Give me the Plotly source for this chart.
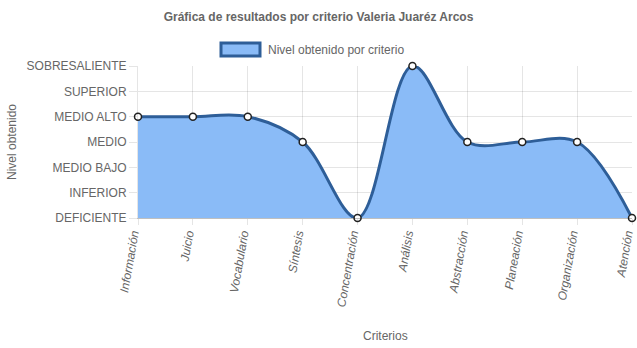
import plotly.graph_objects as go

criterios = ["Información", "Juicio", "Vocabulario", "Síntesis", "Concentración",
             "Análisis", "Abstracción", "Planeación", "Organización", "Atención"]
niveles = ["DEFICIENTE", "INFERIOR", "MEDIO BAJO", "MEDIO", "MEDIO ALTO", "SUPERIOR", "SOBRESALIENTE"]
valores = [4, 4, 4, 3, 0, 6, 3, 3, 3, 0]

FONT = "Liberation Sans, Arial, sans-serif"
GRAY = "#666666"
FILL = "rgba(138,187,247,1)"
LINE = "#2e5e98"

fig = go.Figure()
fig.add_trace(go.Scatter(
    x=list(range(len(criterios))), y=valores,
    mode="lines+markers",
    line=dict(shape="spline", smoothing=1.0, color=LINE, width=3),
    fill="tozeroy", fillcolor=FILL,
    marker=dict(size=7, color="white", line=dict(color="#222222", width=1.5)),
    cliponaxis=False,
    showlegend=False,
))

fig.update_layout(
    width=637, height=348,
    margin=dict(l=138, r=5, t=66, b=130),
    paper_bgcolor="white", plot_bgcolor="white",
    font=dict(family=FONT, size=12, color=GRAY),
    title=dict(text="<b>Gráfica de resultados por criterio Valeria Juaréz Arcos</b>",
               x=0.5, xref="container", xanchor="center",
               y=1 - 17 / 348, yref="container", yanchor="middle",
               font=dict(size=12, color=GRAY, family=FONT)),
    xaxis=dict(
        range=[0, len(criterios) - 1],
        tickmode="array", tickvals=list(range(len(criterios))),
        ticktext=[f"<i>{c}</i>" for c in criterios],
        tickangle=-80,
        ticklabeloverflow="allow",
        ticklabelshift=-5,
        ticklabelstandoff=-3,
        automargin=False,
        showgrid=True, gridcolor="rgba(0,0,0,0.1)", gridwidth=1,
        ticks="outside", ticklen=6, tickcolor="rgba(0,0,0,0.1)",
        showline=True, linecolor="rgba(0,0,0,0.25)",
        zeroline=False,
        tickfont=dict(size=12, color=GRAY),
    ),
    yaxis=dict(
        range=[0, 6],
        tickmode="array", tickvals=list(range(len(niveles))), ticktext=niveles,
        showgrid=True, gridcolor="rgba(0,0,0,0.1)", gridwidth=1,
        ticks="outside", ticklen=8, tickcolor="rgba(0,0,0,0.1)",
        showline=True, linecolor="rgba(0,0,0,0.1)",
        zeroline=False,
        tickfont=dict(size=12, color=GRAY),
    ),
    shapes=[dict(type="rect", xref="paper", yref="paper",
                 x0=(221 - 138) / 494, x1=(260 - 138) / 494,
                 y0=(218 - 56) / 152, y1=(218 - 43) / 152,
                 fillcolor=FILL, line=dict(color=LINE, width=3))],
    annotations=[
        dict(text="Nivel obtenido por criterio", xref="paper", yref="paper",
             x=(266 - 138) / 494, y=(218 - 50) / 152, xanchor="left", yanchor="middle",
             showarrow=False, font=dict(size=12, color=GRAY)),
        dict(text="Criterios", xref="paper", yref="paper",
             x=0.5, y=(218 - 336) / 152, xanchor="center", yanchor="middle",
             showarrow=False, font=dict(size=12, color=GRAY)),
        dict(text="Nivel obtenido", xref="paper", yref="paper",
             x=(12 - 138) / 494, y=(218 - 142) / 152, xanchor="center", yanchor="middle",
             textangle=-90, showarrow=False, font=dict(size=12, color=GRAY)),
    ],
)

fig.write_html("out.html")
